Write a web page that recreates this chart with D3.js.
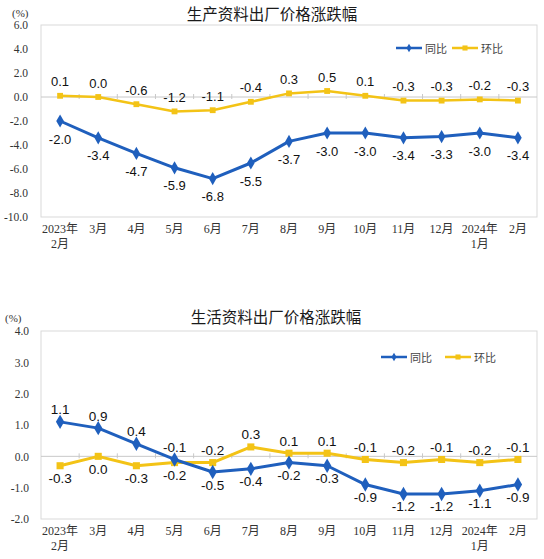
<!DOCTYPE html>
<html>
<head>
<meta charset="utf-8">
<script src="https://cdn.jsdelivr.net/npm/d3@7"></script>
<style>
body { margin: 0; background: #fff; }
</style>
</head>
<body>
<svg id="chart"></svg>
<script>
const months = ["2023年\n2月","3月","4月","5月","6月","7月","8月","9月","10月","11月","12月","2024年\n1月","2月"];
const seriesNames = ["同比", "环比"];

const prodYoy = [-2.0,-3.4,-4.7,-5.9,-6.8,-5.5,-3.7,-3.0,-3.0,-3.4,-3.3,-3.0,-3.4];
const prodMom = [0.1,0.0,-0.6,-1.2,-1.1,-0.4,0.3,0.5,0.1,-0.3,-0.3,-0.2,-0.3];
const prodTicks = [-10,-8,-6,-4,-2,0,2,4,6];

const lifeYoy = [1.1,0.9,0.4,-0.1,-0.5,-0.4,-0.2,-0.3,-0.9,-1.2,-1.2,-1.1,-0.9];
const lifeMom = [-0.3,0.0,-0.3,-0.2,-0.2,0.3,0.1,0.1,-0.1,-0.2,-0.1,-0.2,-0.1];
const lifeTicks = [-2,-1,0,1,2,3,4];

const BLUE = '#1f5fbd';
const YELLOW = '#f3c316';

// plain hyphen instead of d3's unicode minus, like the original
const fmt = d => d.toFixed(1);

class PriceChart{

    constructor( svg, config, data ){
	this.svg = svg;
	this.config = config;
	this.data = data;
	this.init();
    }

    init() {
	let self = this;
	let c = self.config;

	self.g = self.svg.append('g');

	self.xscale = d3.scaleBand()
	    .domain(d3.range(months.length))
	    .range([c.left, c.right]);

	self.yscale = d3.scaleLinear()
	    .domain(d3.extent(c.ticks))
	    .range([c.bottom, c.top]);
    }

    render() {
	let self = this;
	let c = self.config;
	let g = self.g;
	let x = i => self.xscale(i) + self.xscale.bandwidth() / 2;
	let y = self.yscale;

	// title and unit
	g.append('text')
	    .attr('x', c.titleX).attr('y', c.titleY)
	    .attr('text-anchor', 'middle')
	    .style('font-family', '"Noto Sans CJK SC", sans-serif')
	    .style('font-size', '15.5px')
	    .attr('fill', '#1a1a1a')
	    .text(c.title);

	g.append('text')
	    .attr('x', c.unitX).attr('y', c.unitY)
	    .style('font-family', '"Liberation Serif", serif')
	    .style('font-size', '11px')
	    .attr('fill', '#333')
	    .text('(%)');

	// plot border
	g.append('rect')
	    .attr('x', c.left).attr('y', c.top)
	    .attr('width', c.right - c.left).attr('height', c.bottom - c.top)
	    .attr('fill', 'none').attr('stroke', '#d9d9d9');

	// zero line with category ticks
	g.append('line')
	    .attr('x1', c.left).attr('x2', c.right)
	    .attr('y1', y(0)).attr('y2', y(0))
	    .attr('stroke', '#c8c8c8');
	g.selectAll('.ztick').data(d3.range(1, months.length)).join('line')
	    .attr('x1', i => self.xscale(i)).attr('x2', i => self.xscale(i))
	    .attr('y1', y(0) - 3).attr('y2', y(0) + 2)
	    .attr('stroke', '#c8c8c8');

	// y axis
	let yaxis = g.append('g')
	    .attr('transform', `translate(${c.left},0)`)
	    .call(d3.axisLeft(y).tickValues(c.ticks).tickFormat(fmt).tickSize(0).tickPadding(c.yPad));
	yaxis.select('.domain').remove();
	yaxis.selectAll('text')
	    .style('font-family', '"Liberation Serif", serif')
	    .style('font-size', '11.5px')
	    .attr('fill', '#333');

	// x axis
	let xaxis = g.append('g')
	    .attr('transform', `translate(0,${c.bottom})`)
	    .call(d3.axisBottom(self.xscale).tickSize(0).tickPadding(7).tickFormat(i => months[i]));
	xaxis.select('.domain').remove();
	xaxis.selectAll('text')
	    .style('font-family', '"Liberation Serif", "Noto Sans CJK SC", serif')
	    .style('font-size', '12px')
	    .attr('fill', '#333')
	    .each(function(i){
		let t = d3.select(this);
		let lines = months[i].split('\n');
		t.text(null);
		lines.forEach((s, k) => {
		    t.append('tspan').attr('x', 0)
			.attr('dy', k == 0 ? '0.71em' : '1.25em')
			.text(s);
		});
	    });

	// lines
	let line = d3.line().x((d, i) => x(i)).y(d => y(d));
	let series = [
	    { values: self.data.mom, other: self.data.yoy, color: YELLOW, symbol: d3.symbolSquare, size: c.sqSize, width: c.momWidth },
	    { values: self.data.yoy, other: self.data.mom, color: BLUE, symbol: d3.symbolDiamond, size: c.diaSize, width: c.yoyWidth }
	];

	series.forEach(s => {
	    g.append('path')
		.attr('d', line(s.values))
		.attr('fill', 'none')
		.attr('stroke', s.color)
		.attr('stroke-width', s.width)
		.attr('stroke-linejoin', 'round');
	    g.selectAll(null).data(s.values).join('path')
		.attr('transform', (d, i) => `translate(${x(i)},${y(d)})`)
		.attr('d', d3.symbol().type(s.symbol).size(s.size))
		.attr('fill', s.color);
	});

	series.forEach(s => {
	    g.selectAll(null).data(s.values).join('text')
		.attr('x', (d, i) => x(i))
		.attr('y', (d, i) => y(d) + (d >= s.other[i] ? -c.above : c.below))
		.attr('text-anchor', 'middle')
		.attr('dominant-baseline', 'central')
		.style('font-family', '"Liberation Sans", Arial, sans-serif')
		.style('font-size', c.labelSize)
		.attr('fill', '#111')
		.text(fmt);
	});

	// legend
	let lg = g.append('g').attr('transform', `translate(${c.legendX},${c.legendY})`);
	[[BLUE, d3.symbolDiamond, 26], [YELLOW, d3.symbolSquare, 26]].forEach((l, k) => {
	    let ox = k * c.legendGap;
	    lg.append('line')
		.attr('x1', ox).attr('x2', ox + l[2])
		.attr('stroke', l[0]).attr('stroke-width', 2.5);
	    lg.append('path')
		.attr('transform', `translate(${ox + l[2] / 2},0)`)
		.attr('d', d3.symbol().type(l[1]).size(k == 0 ? 22 : 26))
		.attr('fill', l[0]);
	    lg.append('text')
		.attr('x', ox + l[2] + 3)
		.attr('dominant-baseline', 'central')
		.style('font-family', '"Noto Sans CJK SC", sans-serif')
		.style('font-size', '11px')
		.attr('fill', '#444')
		.text(seriesNames[k]);
	});
    }
}

const svg = d3.select('#chart').attr('width', 544).attr('height', 559);

let chart1 = new PriceChart(svg, {
    title: '生产资料出厂价格涨跌幅', titleX: 272, titleY: 20,
    unitX: 12, unitY: 17,
    left: 41, right: 537, top: 25, bottom: 217,
    ticks: prodTicks, yPad: 13,
    above: 14, below: 18, labelSize: '13px',
    sqSize: 34, diaSize: 50, momWidth: 2.5, yoyWidth: 3,
    legendX: 396, legendY: 48, legendGap: 56
}, { yoy: prodYoy, mom: prodMom });
chart1.render();

let chart2 = new PriceChart(svg, {
    title: '生活资料出厂价格涨跌幅', titleX: 276, titleY: 323,
    unitX: 5, unitY: 322,
    left: 41, right: 537, top: 331, bottom: 519,
    ticks: lifeTicks, yPad: 12,
    above: 12, below: 13, labelSize: '13.5px',
    sqSize: 50, diaSize: 60, momWidth: 3, yoyWidth: 3,
    legendX: 381, legendY: 357, legendGap: 64
}, { yoy: lifeYoy, mom: lifeMom });
chart2.render();
</script>
</body>
</html>
